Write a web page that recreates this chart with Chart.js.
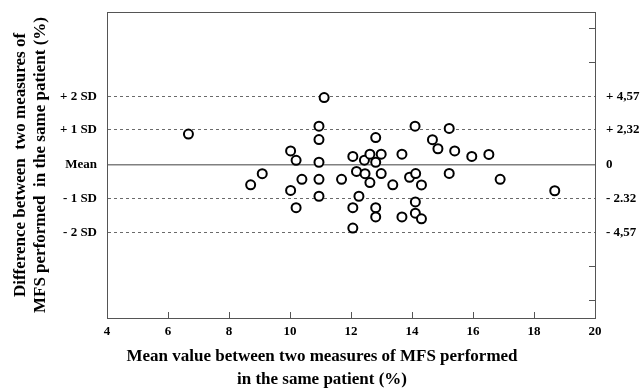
<!DOCTYPE html>
<html>
<head>
<meta charset="utf-8">
<script src="https://cdn.jsdelivr.net/npm/chart.js@4.4.1/dist/chart.umd.min.js"></script>
<style>
html,body{margin:0;padding:0;background:#fff;}
#wrap{width:641px;height:390px;position:relative;}
</style>
</head>
<body>
<div id="wrap"><canvas id="c"></canvas></div>
<script>
// Mean of the two measures (x, %) and difference between them (y, %)
const meanValues = [6.67, 9.09, 8.71, 10.02, 10.20, 10.39, 10.02, 10.20, 11.12, 10.95,
  10.95, 10.95, 10.95, 10.95, 11.69, 12.06, 12.44, 12.62, 12.81, 12.99,
  12.81, 13.67, 14.10, 12.18, 12.46, 12.62, 12.99, 13.37, 13.92, 14.12,
  14.31, 12.26, 12.06, 12.81, 12.81, 13.67, 14.11, 14.11, 14.31, 12.06,
  15.22, 14.67, 14.85, 15.40, 15.96, 16.52, 15.22, 16.89, 18.68];
const differences = [2.04, -0.63, -1.38, 0.90, 0.27, -1.01, -1.76, -2.92, 4.50, 2.57,
  1.67, 0.14, -1.01, -2.15, -1.01, 0.53, 0.28, 0.68, 0.14, 0.68,
  1.80, 0.68, 2.57, -0.48, -0.63, -1.23, -0.62, -1.38, -0.87, -0.62,
  -1.39, -2.15, -2.92, -2.92, -3.54, -3.54, -2.53, -3.29, -3.67, -4.29,
  2.42, 1.66, 1.05, 0.90, 0.53, 0.67, -0.61, -1.01, -1.78];

// Bland-Altman reference lines
const limitValues = [4.57, 2.32, 0, -2.32, -4.57];
const limitLabelsLeft = ['+ 2 SD', '+ 1 SD', 'Mean', '- 1 SD', '- 2 SD'];
const limitLabelsRight = ['+ 4,57', '+ 2,32', '0', '- 2.32', '- 4,57'];
const extraRightTicks = [9.14, 6.86, -6.86, -9.14];

const xTitleLines = ['Mean value between two measures of MFS performed', 'in the same patient (%)'];
const yTitleLines = ['Difference between  two measures of', 'MFS performed  in the same patient (%)'];

const points = meanValues.map((x, i) => ({x: x, y: differences[i]}));
const FONT = "'Liberation Serif', 'Times New Roman', serif";
const tickFont = {family: FONT, size: 13, weight: 'bold'};
const AXIS = '#555';

const xTitlePlugin = {
  id: 'xTitle',
  afterDraw(chart) {
    const ctx = chart.ctx;
    ctx.save();
    ctx.font = "bold 17px " + FONT;
    ctx.fillStyle = '#000';
    ctx.textAlign = 'center';
    ctx.textBaseline = 'middle';
    ctx.fillText(xTitleLines[0], 322, 357);
    ctx.fillText(xTitleLines[1], 322, 380);
    ctx.restore();
  }
};

function noPad(s) { s.paddingTop = 0; s.paddingBottom = 0; s.paddingLeft = 0; s.paddingRight = 0; }

new Chart(document.getElementById('c'), {
  type: 'scatter',
  data: {
    datasets: [{
      data: points,
      pointRadius: 4.5,
      pointBorderWidth: 2,
      pointBorderColor: '#000',
      pointBackgroundColor: '#fff',
      showLine: false
    }]
  },
  options: {
    responsive: true,
    maintainAspectRatio: false,
    animation: false,
    events: [],
    layout: {padding: {top: 12, left: 0, right: 0, bottom: 0}},
    plugins: {legend: {display: false}, tooltip: {enabled: false}},
    scales: {
      x: {
        type: 'linear', position: 'bottom', min: 4, max: 20,
        afterFit: s => { s.height = 72; noPad(s); },
        ticks: {stepSize: 2, font: tickFont, color: '#000', padding: 12, maxRotation: 0},
        grid: {drawOnChartArea: false, drawTicks: true, tickLength: -6, tickColor: AXIS, tickWidth: 1, tickBorderDash: []},
        border: {display: true, color: AXIS, width: 1}
      },
      xTop: {
        type: 'linear', position: 'top', min: 4, max: 20,
        afterFit: s => { s.height = 0; noPad(s); },
        ticks: {display: false},
        grid: {display: false},
        border: {display: true, color: AXIS, width: 1}
      },
      y: {
        type: 'linear', position: 'left', min: -10.35, max: 10.26,
        afterFit: s => { s.width = 107; noPad(s); },
        afterBuildTicks: s => { s.ticks = limitValues.map(v => ({value: v})); },
        ticks: {
          font: tickFont, color: '#000', padding: 10, autoSkip: false,
          callback: (v) => { const i = limitValues.indexOf(v); return i >= 0 ? limitLabelsLeft[i] : ''; }
        },
        title: {display: true, text: yTitleLines, font: {family: FONT, size: 17, weight: 'bold'}, color: '#000', padding: {top: 10, bottom: 0}},
        grid: {
          drawTicks: false,
          color: ctx => (ctx.tick && ctx.tick.value === 0) ? 'transparent' : '#6a6a6a',
          lineWidth: 1
        },
        border: {display: true, color: AXIS, width: 1, dash: [3, 3]}
      },
      y2: {
        type: 'linear', position: 'right', min: -10.35, max: 10.26,
        afterFit: s => { s.width = 46; noPad(s); },
        afterBuildTicks: s => { s.ticks = limitValues.concat(extraRightTicks).sort((a, b) => b - a).map(v => ({value: v})); },
        ticks: {
          font: tickFont, color: '#000', padding: 17, autoSkip: false,
          callback: (v) => { const i = limitValues.indexOf(v); return i >= 0 ? limitLabelsRight[i] : ''; }
        },
        grid: {
          drawOnChartArea: true,
          drawTicks: true,
          tickLength: -6,
          tickBorderDash: [],
          color: ctx => (ctx.tick && ctx.tick.value === 0) ? '#808080' : 'transparent',
          lineWidth: ctx => (ctx.tick && ctx.tick.value === 0) ? 1.5 : 1,
          tickColor: ctx => (ctx.tick && Math.abs(ctx.tick.value) > 6) ? AXIS : 'transparent',
          tickWidth: 1
        },
        border: {display: true, color: AXIS, width: 1}
      }
    }
  },
  plugins: [xTitlePlugin]
});
</script>
</body>
</html>
